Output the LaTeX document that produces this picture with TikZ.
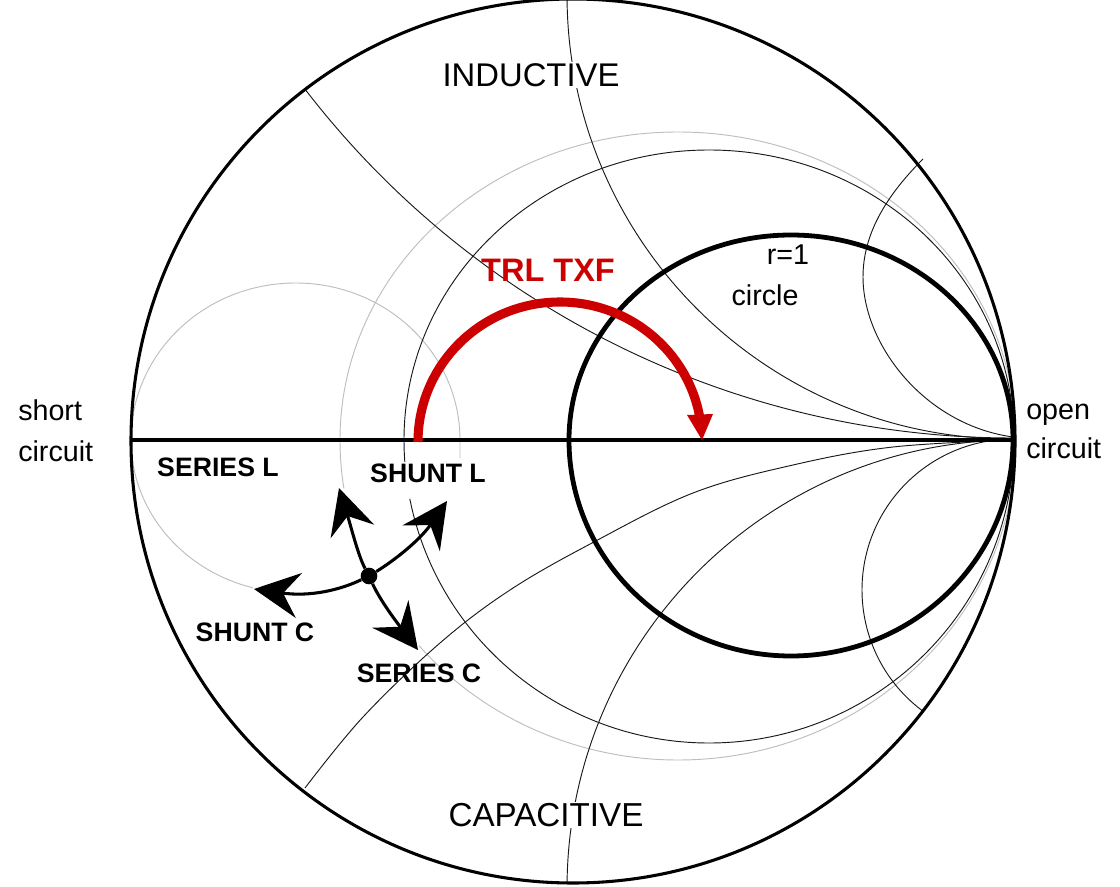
\documentclass[tikz,border=0pt]{standalone}
\usepackage{fontspec}
\setmainfont{Liberation Sans}
\usetikzlibrary{arrows.meta}
\definecolor{trlred}{RGB}{204,0,0}
\definecolor{gridgray}{RGB}{190,190,190}
\tikzset{
  thinline/.style={line width=0.7pt,black!90},
  grayline/.style={line width=0.7pt,gridgray},
  move/.style={line width=2.3pt,-{Stealth[length=34pt,width=34pt,inset=12pt]}},
  reglabel/.style={fill=white,inner sep=1pt},
  endlabel/.style={font=\fontsize{21.5}{21.5}\selectfont,inner sep=0pt},
  boldlabel/.style={font=\fontsize{20}{20}\selectfont\bfseries,inner sep=1pt},
}
\begin{document}
\begin{tikzpicture}[x=0.75pt,y=-0.75pt]
\useasboundingbox (0,0) rectangle (1120,887);
\fill[white] (0,0) rectangle (1120,887);
% gray circles
\draw[grayline] (678,440) ++(171.3:338 and 320) arc[start angle=171.3,end angle=180,x radius=338,y radius=320]
  arc[start angle=180,end angle=360,x radius=338,y radius=308]
  arc[start angle=0,end angle=140,x radius=338,y radius=320];
\draw[grayline] (460,458) -- (460,440) arc[start angle=0,end angle=-180,x radius=164.5,y radius=157] arc[start angle=180,end angle=105,x radius=164.5,y radius=153];
% thin black circle
\draw[thinline] (709,440) ++(175.8:305 and 303) arc[start angle=175.8,end angle=180,x radius=305,y radius=303]
  arc[start angle=180,end angle=360,x radius=305,y radius=290]
  arc[start angle=0,end angle=168.8,x radius=305,y radius=303];
% reactance curves
\draw[thinline] (1011,-5) ++(179.35:444) arc[start angle=179.35,end angle=90,radius=444];
\draw[thinline] (1013,-455) ++(142.4:893) arc[start angle=142.4,end angle=90,radius=893];
\draw[thinline] (923,159) .. controls (885,197) and (863,235) .. (863,277) .. controls (863,345) and (925,425) .. (1013,437);
\draw[thinline] (1015,888) ++(180.6:448) arc[start angle=180.6,end angle=270,radius=448];
\draw[thinline,smooth,tension=0.6] plot coordinates {(305,788) (363,717) (440,643) (510,590) (592,543) (693,493) (793,465) (893,447) (1013,440)};
\draw[thinline] (1013,590) ++(126.5:151) arc[start angle=126.5,end angle=270,radius=151];
% labels with white ground
\node[reglabel,font=\fontsize{24.6}{24.6}\selectfont] (ind) at (531,75) {INDUCTIVE};
\node[reglabel,font=\fontsize{24.9}{24.9}\selectfont] (cap) at (546,815) {CAPACITIVE};
\node[boldlabel,fill=white] (shuntl) at (428,473) {SHUNT L};
% main circles
\draw[line width=2.3pt] (573,441) circle[radius=442];
\draw[line width=3.6pt] (791,440) ++(180:222 and 216) arc[start angle=180,end angle=360,x radius=222,y radius=205]
  arc[start angle=0,end angle=180,x radius=222,y radius=216] -- cycle;
\coordinate (short) at (131,440);
\coordinate (open) at (1016,440);
\draw[line width=2.3pt] (short) -- (open);
% text
\node[endlabel,anchor=base west] (sc1) at (18,421) {short};
\node[endlabel,anchor=base west] (sc2) at (18,461) {circuit};
\node[endlabel,anchor=base west] (oc1) at (1026,420) {open};
\node[endlabel,anchor=base west] (oc2) at (1026,459) {circuit};
\node[endlabel,anchor=base] (r1) at (788,265) {r=1};
\node[endlabel,anchor=base] (circ) at (765,306) {circle};
\node[boldlabel] (serl) at (218,467) {SERIES L};
\node[boldlabel] (shc) at (255,632) {SHUNT C};
\node[boldlabel] (serc) at (419,673) {SERIES C};
\node[font=\fontsize{24.4}{24.4}\selectfont\bfseries,text=trlred,inner sep=0pt] (trl) at (548,270) {TRL TXF};
% transmission line arc
\coordinate (trlstart) at (418,442);
\coordinate (trlend) at (702,440);
\draw[line width=6.8pt,trlred] (trlstart) arc[start angle=180,end angle=350,x radius=142,y radius=140];
\fill[trlred] (trlend) -- (687,415) -- (713,414) -- cycle;
% moves
\node[circle,fill=black,inner sep=0pt,minimum size=12.5pt] (dot) at (369,576) {};
\coordinate (upT) at (339,488);
\coordinate (leftT) at (254,589);
\coordinate (rightT) at (447,501);
\coordinate (downT) at (418,650);
\draw[move] (dot) .. controls (358,555) and (352,530) .. (upT);
\draw[move] (dot) .. controls (340,590) and (310,597) .. (leftT);
\draw[move] (dot) .. controls (395,560) and (420,540) .. (rightT);
\draw[move] (dot) .. controls (380,600) and (395,620) .. (downT);
\end{tikzpicture}
\end{document}
